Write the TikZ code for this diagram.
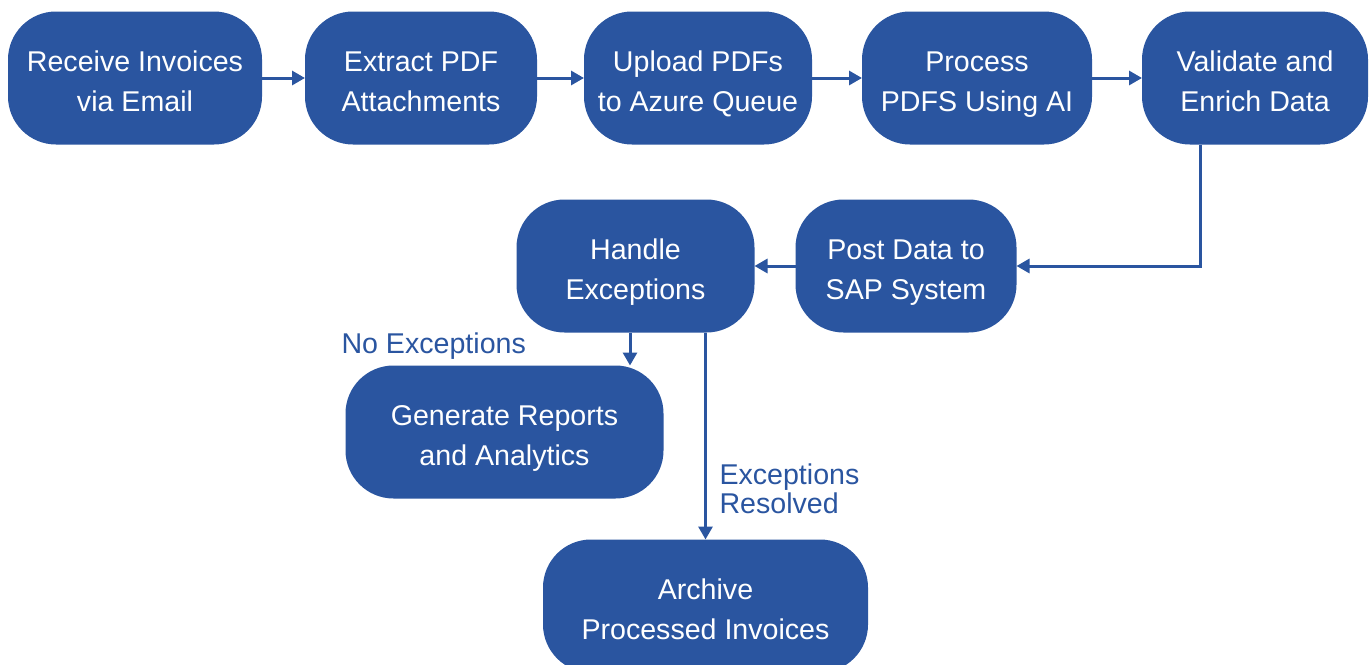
\documentclass[tikz,border=0pt]{standalone}
\usepackage{fontspec}
\setmainfont{Liberation Sans}
\usepackage{tikz}
\usetikzlibrary{arrows.meta,positioning,calc}
\definecolor{boxblue}{HTML}{2A55A0}

\begin{document}
\begin{tikzpicture}[color=boxblue,line width=1.5pt,
every node/.style={font=\fontsize{14.3pt}{20pt}\selectfont,outer sep=0pt},
stage/.style={fill=boxblue,text=white,rounded corners=24pt,minimum height=66.5pt,align=center,inner sep=0pt,text height=35pt,text depth=2pt},
lbl/.style={text=boxblue,inner sep=0pt},
>={Triangle[length=6.5pt,width=7pt]}]
\useasboundingbox (0,0) rectangle (685pt,-332pt);
\node[stage,minimum width=127pt] (rec) at (67.5pt,-39pt) {Receive Invoices\\via Email};
\node[stage,minimum width=116pt,right=21.5pt of rec] (ext) {Extract PDF\\Attachments};
\node[stage,minimum width=114pt,right=23.5pt of ext] (upl) {Upload PDFs\\to Azure Queue};
\node[stage,minimum width=115pt,right=25pt of upl] (pro) {Process\\PDFS Using AI};
\node[stage,minimum width=113pt,right=25pt of pro] (val) {Validate and\\Enrich Data};
\node[stage,minimum width=110.5pt,below=27.5pt of pro,xshift=-35.5pt] (post) {Post Data to\\SAP System};
\node[stage,minimum width=119pt,left=20.5pt of post] (han) {Handle\\Exceptions};
\node[stage,minimum width=159pt,below=16.5pt of han,xshift=-65.5pt] (gen) {Generate Reports\\and Analytics};
\node[stage,minimum width=162.5pt,below=103.5pt of han,xshift=35pt] (arc) {Archive\\Processed Invoices};
\node[lbl,anchor=base west] (noexc) at ([shift={(-2pt,6pt)}]gen.north west) {No Exceptions};
\node[lbl,anchor=west,align=left,font=\fontsize{14.3pt}{14.5pt}\selectfont] (resolved) at ([shift={(7pt,25.5pt)}]arc.north) {Exceptions\\Resolved};

\draw[->] (rec) -- (ext);
\draw[->] (ext) -- (upl);
\draw[->] (upl) -- (pro);
\draw[->] (pro) -- (val);
\draw[->] ([xshift=-27.5pt]val.south) |- (post.east);
\draw[->] (post) -- (han);
\coordinate (hs) at ([xshift=-2.75pt]han.south);
\draw[->] (hs) -- (hs |- gen.north);
\draw[->] (han.south -| arc.north) -- (arc.north);
\end{tikzpicture}
\end{document}
